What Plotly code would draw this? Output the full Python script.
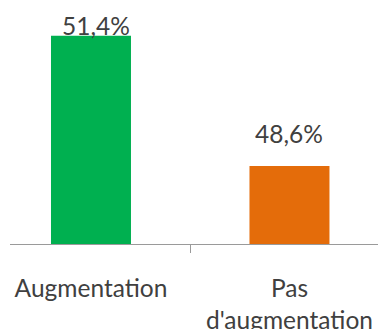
import plotly.graph_objects as go

categories = ["Augmentation", "Pas<br>d'augmentation"]
values = [51.4, 48.6]
labels = ["51,4%", "48,6%"]
colors = ["#00B050", "#E46C0A"]

label_xshift = [5, 0]
label_yshift = [-6, 16]

fig = go.Figure()
fig.add_trace(go.Bar(
    x=categories, y=values, marker=dict(color=colors, line=dict(width=0)),
    width=0.403, hoverinfo="skip",
))

for c, v, t, xs, ys in zip(categories, values, labels, label_xshift, label_yshift):
    fig.add_annotation(x=c, y=v, text=t, showarrow=False, yanchor="bottom",
                       xshift=xs, yshift=ys,
                       font=dict(family="Lato", size=24.5, color="#404040"))

fig.update_layout(
    width=378, height=329,
    margin=dict(l=10, r=0, t=0, b=85),
    paper_bgcolor="white", plot_bgcolor="white",
    showlegend=False,
    xaxis=dict(
        range=[-0.408, 1.446], showgrid=False, zeroline=False,
        showline=True, linecolor="#9A9A9A", linewidth=1,
        ticks="outside", tickson="boundaries", ticklen=8, tickcolor="#9A9A9A",
        tickfont=dict(family="Lato", size=24.5, color="#404040"),
        ticklabelstandoff=23, automargin=False,
    ),
    yaxis=dict(range=[46.92, 52.17], visible=False, automargin=False),
)

fig.write_html(
    "out.html",
    config={"displayModeBar": False, "staticPlot": True},
    post_script="document.body.style.margin='0';document.body.style.overflow='hidden';",
)
